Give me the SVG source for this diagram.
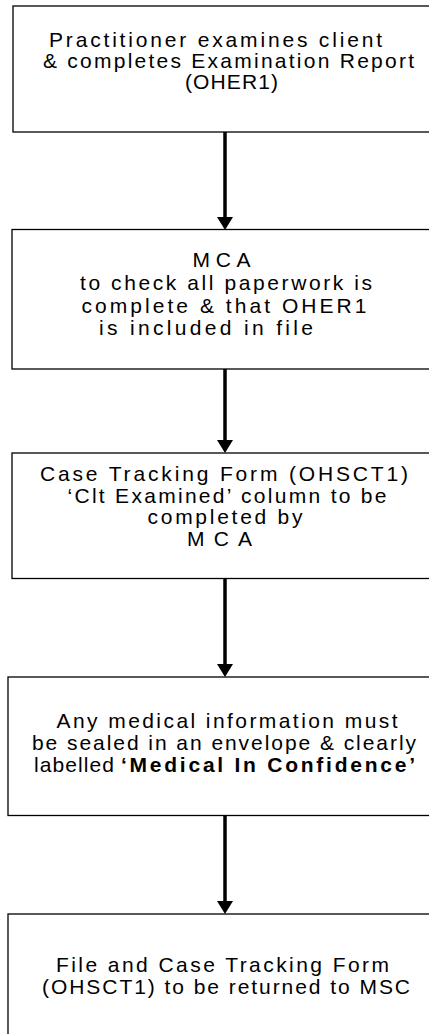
<svg xmlns="http://www.w3.org/2000/svg" width="429" height="1034" viewBox="0 0 429 1034">
<style>
  .box { fill: #ffffff; stroke: #000000; stroke-width: 1.3; }
  .t { font-family: "Liberation Sans", Arial, sans-serif; font-size: 21px; fill: #000000; }
  .b { font-weight: bold; }
  .conn { stroke: #000000; stroke-width: 3.5; fill: none; }
</style>
<defs>
  <marker id="head" markerUnits="userSpaceOnUse" viewBox="0 0 13 16" markerWidth="13" markerHeight="16" refX="3" refY="8" orient="auto">
    <path d="M0,0 L13,8 L0,16 Z" fill="#000000"/>
  </marker>
</defs>
<rect x="0" y="0" width="429" height="1034" fill="#ffffff"/>

<g id="connectors">
  <line class="conn" x1="225" y1="132" x2="225" y2="220" marker-end="url(#head)"/>
  <line class="conn" x1="225" y1="369" x2="225" y2="443" marker-end="url(#head)"/>
  <line class="conn" x1="225" y1="578.5" x2="225" y2="667" marker-end="url(#head)"/>
  <line class="conn" x1="225" y1="815.5" x2="225" y2="904" marker-end="url(#head)"/>
</g>

<g id="node1">
  <rect class="box" x="13" y="6" width="430" height="126"/>
  <text class="t" x="49" y="46.5" textLength="333" lengthAdjust="spacing">Practitioner examines client</text>
  <text class="t" x="43" y="67.8" textLength="371" lengthAdjust="spacing">&amp; completes Examination Report</text>
  <text class="t" x="185" y="88.5" textLength="93" lengthAdjust="spacing">(OHER1)</text>
</g>

<g id="node2">
  <rect class="box" x="12" y="229.5" width="430" height="139.5"/>
  <text class="t" x="192.5" y="267.3" textLength="58" lengthAdjust="spacing">MCA</text>
  <text class="t" x="80" y="290.3" textLength="292" lengthAdjust="spacing">to check all paperwork is</text>
  <text class="t" x="81.5" y="312.7" textLength="285" lengthAdjust="spacing">complete &amp; that OHER1</text>
  <text class="t" x="99" y="335" textLength="214" lengthAdjust="spacing">is included in file</text>
</g>

<g id="node3">
  <rect class="box" x="12" y="453" width="430" height="125.5"/>
  <text class="t" x="40" y="481" textLength="368" lengthAdjust="spacing">Case Tracking Form (OHSCT1)</text>
  <text class="t" x="67.5" y="502.5" textLength="319" lengthAdjust="spacing">‘Clt Examined’ column to be</text>
  <text class="t" x="147.5" y="524" textLength="155" lengthAdjust="spacing">completed by</text>
  <text class="t" x="187" y="545.5" textLength="65" lengthAdjust="spacing">MCA</text>
</g>

<g id="node4">
  <rect class="box" x="8" y="677" width="435" height="138.5"/>
  <text class="t" x="56.5" y="728.3" textLength="341" lengthAdjust="spacing">Any medical information must</text>
  <text class="t" x="32" y="750" textLength="384" lengthAdjust="spacing">be sealed in an envelope &amp; clearly</text>
  <text class="t" x="34" y="771.7" textLength="80" lengthAdjust="spacing">labelled</text>
  <text class="t b" x="121" y="771.7" textLength="294" lengthAdjust="spacing">‘Medical In Confidence’</text>
</g>

<g id="node5">
  <rect class="box" x="8" y="914" width="435" height="140"/>
  <text class="t" x="56" y="972" textLength="333" lengthAdjust="spacing">File and Case Tracking Form</text>
  <text class="t" x="42" y="993.5" textLength="368" lengthAdjust="spacing">(OHSCT1) to be returned to MSC</text>
</g>
</svg>
